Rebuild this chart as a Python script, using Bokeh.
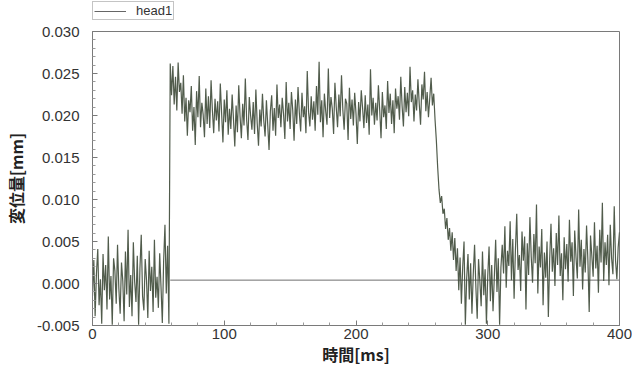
from bokeh.plotting import figure
from bokeh.layouts import column
from bokeh.models import FixedTicker, NumeralTickFormatter, Legend, LegendItem, Range1d
from bokeh.embed import file_html
from bokeh.resources import INLINE

# ---- data (time in ms, displacement in mm) ----
time_ms = list(range(0, 401))

disp_mm = [
    # 0-57 ms baseline
    -0.0015, 0.0028, -0.0039, 0.0012, 0.0041, -0.0026, 0.0005, -0.0048, 0.0035, -0.0008,
    0.0022, -0.0031, 0.0056, -0.0019, 0.0009, -0.0049, 0.0030, 0.0015, -0.0024, 0.0046,
    -0.0006, -0.0036, 0.0025, 0.0003, -0.0045, 0.0038, -0.0013, 0.0064, -0.0028, 0.0010,
    -0.0039, 0.0049, 0.0002, -0.0022, 0.0033, -0.0049, 0.0018, 0.0058, -0.0015, -0.0032,
    0.0029, 0.0004, -0.0041, 0.0039, -0.0009, 0.0020, -0.0034, 0.0052, -0.0017, 0.0008,
    -0.0029, 0.0036, -0.0004, -0.0047, 0.0027, 0.0070, -0.0012, 0.0045,
    # 58-59 step
    -0.0048, 0.0262,
    # 60-69
    0.0224, 0.0259, 0.0213, 0.0246, 0.0206, 0.0263, 0.0228, 0.0239, 0.0202, 0.0248,
    # 70-255 plateau
    0.0193, 0.0221, 0.0176, 0.0218, 0.0204, 0.0235, 0.0182, 0.0210, 0.0165, 0.0229,
    0.0198, 0.0247, 0.0186, 0.0215, 0.0201, 0.0174, 0.0232, 0.0190, 0.0223, 0.0185,
    0.0242, 0.0206, 0.0179, 0.0220, 0.0194, 0.0217, 0.0181, 0.0238, 0.0203, 0.0168,
    0.0219, 0.0192, 0.0230, 0.0177, 0.0208, 0.0184, 0.0225, 0.0196, 0.0163, 0.0212,
    0.0180, 0.0236, 0.0199, 0.0173, 0.0214, 0.0188, 0.0244, 0.0195, 0.0171, 0.0222,
    0.0200, 0.0183, 0.0216, 0.0178, 0.0231, 0.0191, 0.0164, 0.0207, 0.0187, 0.0226,
    0.0194, 0.0175, 0.0218, 0.0189, 0.0159, 0.0205, 0.0224, 0.0182, 0.0209, 0.0176,
    0.0237, 0.0197, 0.0213, 0.0186, 0.0221, 0.0202, 0.0172, 0.0240, 0.0193, 0.0215,
    0.0184, 0.0228, 0.0206, 0.0170, 0.0219, 0.0190, 0.0234, 0.0203, 0.0181, 0.0227,
    0.0198, 0.0211, 0.0179, 0.0253, 0.0204, 0.0187, 0.0223, 0.0195, 0.0217, 0.0182,
    0.0235, 0.0201, 0.0264, 0.0192, 0.0218, 0.0174, 0.0226, 0.0205, 0.0189, 0.0256,
    0.0197, 0.0222, 0.0208, 0.0178, 0.0239, 0.0210, 0.0186, 0.0225, 0.0199, 0.0248,
    0.0207, 0.0183, 0.0220, 0.0214, 0.0171, 0.0233, 0.0196, 0.0219, 0.0188, 0.0227,
    0.0202, 0.0166, 0.0216, 0.0193, 0.0230, 0.0209, 0.0185, 0.0224, 0.0191, 0.0213,
    0.0177, 0.0255, 0.0200, 0.0221, 0.0189, 0.0215, 0.0194, 0.0236, 0.0206, 0.0173,
    0.0228, 0.0198, 0.0212, 0.0184, 0.0241, 0.0203, 0.0226, 0.0190, 0.0218, 0.0179,
    0.0232, 0.0208, 0.0223, 0.0195, 0.0246, 0.0211, 0.0187, 0.0234, 0.0204, 0.0227,
    0.0199, 0.0258, 0.0216, 0.0230, 0.0193, 0.0225, 0.0206, 0.0243, 0.0214, 0.0189,
    0.0237, 0.0219, 0.0252, 0.0205, 0.0228, 0.0198,
    # 256-275 fall
    0.0221, 0.0245, 0.0212, 0.0226, 0.0195, 0.0170, 0.0138, 0.0112, 0.0096, 0.0104,
    0.0083, 0.0089, 0.0065, 0.0078, 0.0052, 0.0066, 0.0039, 0.0061, 0.0028, 0.0054,
    # 276-310 settling
    0.0015, 0.0042, -0.0008, 0.0031, -0.0024, 0.0020, 0.0050, -0.0049, 0.0006, 0.0035,
    -0.0019, 0.0024, -0.0036, 0.0011, 0.0046, -0.0005, -0.0042, 0.0029, 0.0003, -0.0027,
    0.0038, -0.0014, 0.0017, -0.0048, 0.0009, 0.0044, -0.0021, 0.0022, -0.0033, 0.0008,
    0.0052, -0.0010, 0.0030, -0.0049, 0.0019,
    # 311-400 final level
    0.0046, 0.0012, 0.0068, -0.0005, 0.0039, 0.0021, 0.0074, 0.0004, 0.0053, -0.0018,
    0.0040, 0.0083, 0.0016, 0.0034, -0.0009, 0.0062, 0.0027, 0.0056, -0.0031, 0.0048,
    0.0010, 0.0079, 0.0032, 0.0001, 0.0059, 0.0024, 0.0094, -0.0012, 0.0044, 0.0019,
    0.0065, -0.0026, 0.0037, 0.0007, 0.0050, -0.0040, 0.0029, 0.0071, 0.0014, 0.0042,
    -0.0003, 0.0060, 0.0022, 0.0081, 0.0009, 0.0036, -0.0020, 0.0055, 0.0017, 0.0047,
    0.0002, 0.0076, 0.0026, 0.0049, -0.0015, 0.0063, 0.0031, 0.0006, 0.0088, 0.0020,
    0.0052, -0.0007, 0.0041, 0.0013, 0.0069, 0.0028, -0.0034, 0.0057, 0.0033, 0.0008,
    0.0073, 0.0018, 0.0045, -0.0011, 0.0064, 0.0025, 0.0096, 0.0003, 0.0049, 0.0022,
    0.0058, -0.0002, 0.0070, 0.0030, 0.0011, 0.0092, 0.0027, 0.0005, 0.0043, 0.0061,
]

ref_time_ms = [59, 400]
ref_mm = [0.0004, 0.0004]

x_ticks = [0, 100, 200, 300, 400]
x_minor = [20, 40, 60, 80, 120, 140, 160, 180, 220, 240, 260, 280, 320, 340, 360, 380]
y_ticks = [-0.005, 0.000, 0.005, 0.010, 0.015, 0.020, 0.025, 0.030]
y_minor = [-0.004, -0.003, -0.002, -0.001, 0.001, 0.002, 0.003, 0.004,
           0.006, 0.007, 0.008, 0.009, 0.011, 0.012, 0.013, 0.014,
           0.016, 0.017, 0.018, 0.019, 0.021, 0.022, 0.023, 0.024,
           0.026, 0.027, 0.028, 0.029]

LINE_COLOR = "#3e4a39"

# ---- legend strip above the plot (its swatch renderer lies outside the strip's ranges) ----
leg = figure(width=624, height=22, output_backend="svg", toolbar_location=None,
             x_range=Range1d(1000, 1001), y_range=Range1d(1, 2),
             min_border_left=84, min_border_right=13, min_border_top=0, min_border_bottom=0)
leg.axis.visible = False
leg.xgrid.visible = False
leg.ygrid.visible = False
leg.outline_line_color = None
leg.background_fill_color = "white"
leg.border_fill_color = "white"
leg_r = leg.line(x=ref_time_ms, y=ref_mm, line_color="#666666", line_width=1)
legend = Legend(items=[LegendItem(label="head1", renderers=[leg_r])],
                location=(0, 2), orientation="vertical",
                label_text_font="Liberation Sans", label_text_font_size="13px",
                label_text_color="#333333", glyph_width=32, glyph_height=8,
                label_height=12, padding=1, spacing=0, margin=0,
                border_line_color="#8a8a8a", border_line_width=1,
                background_fill_alpha=1.0, label_standoff=10)
leg.add_layout(legend, "center")

# ---- main plot ----
p = figure(frame_width=527, frame_height=294, output_backend="svg", toolbar_location=None,
           x_range=Range1d(0, 400), y_range=Range1d(-0.005, 0.030),
           min_border_left=84, min_border_right=13, min_border_top=9, min_border_bottom=40)

p.background_fill_color = "white"
p.border_fill_color = "white"
p.outline_line_color = "#7a7a7a"
p.outline_line_width = 1
p.xgrid.visible = False
p.ygrid.visible = False

ref = p.line(ref_time_ms, ref_mm, line_color="#6e6e6e", line_width=1)
main = p.line(time_ms, disp_mm, line_color=LINE_COLOR, line_width=1.2, line_alpha=0.9)

for ax in (p.xaxis[0], p.yaxis[0]):
    ax.axis_line_color = "#7a7a7a"
    ax.major_tick_line_color = "#7a7a7a"
    ax.minor_tick_line_color = "#9a9a9a"
    ax.major_tick_in = 5
    ax.major_tick_out = 0
    ax.minor_tick_in = 3
    ax.minor_tick_out = 0
    ax.major_label_text_font = "Liberation Sans"
    ax.major_label_text_font_size = "15px"
    ax.major_label_text_color = "#333333"
    ax.axis_label_text_font = "Noto Sans CJK JP"
    ax.axis_label_text_font_style = "bold"
    ax.axis_label_text_font_size = "16px"
    ax.axis_label_text_color = "#222222"

p.xaxis[0].ticker = FixedTicker(ticks=x_ticks, minor_ticks=x_minor)
p.yaxis[0].ticker = FixedTicker(ticks=y_ticks, minor_ticks=y_minor)
p.yaxis[0].formatter = NumeralTickFormatter(format="0.000")
p.xaxis[0].major_label_standoff = 3
p.yaxis[0].major_label_standoff = 13
p.xaxis[0].axis_label = "時間[ms]"
p.yaxis[0].axis_label = "変位量[mm]"
p.xaxis[0].axis_label_standoff = 0
p.yaxis[0].axis_label_standoff = 6

layout = column(leg, p, spacing=0)
open("out.html", "w").write(file_html(layout, INLINE))
